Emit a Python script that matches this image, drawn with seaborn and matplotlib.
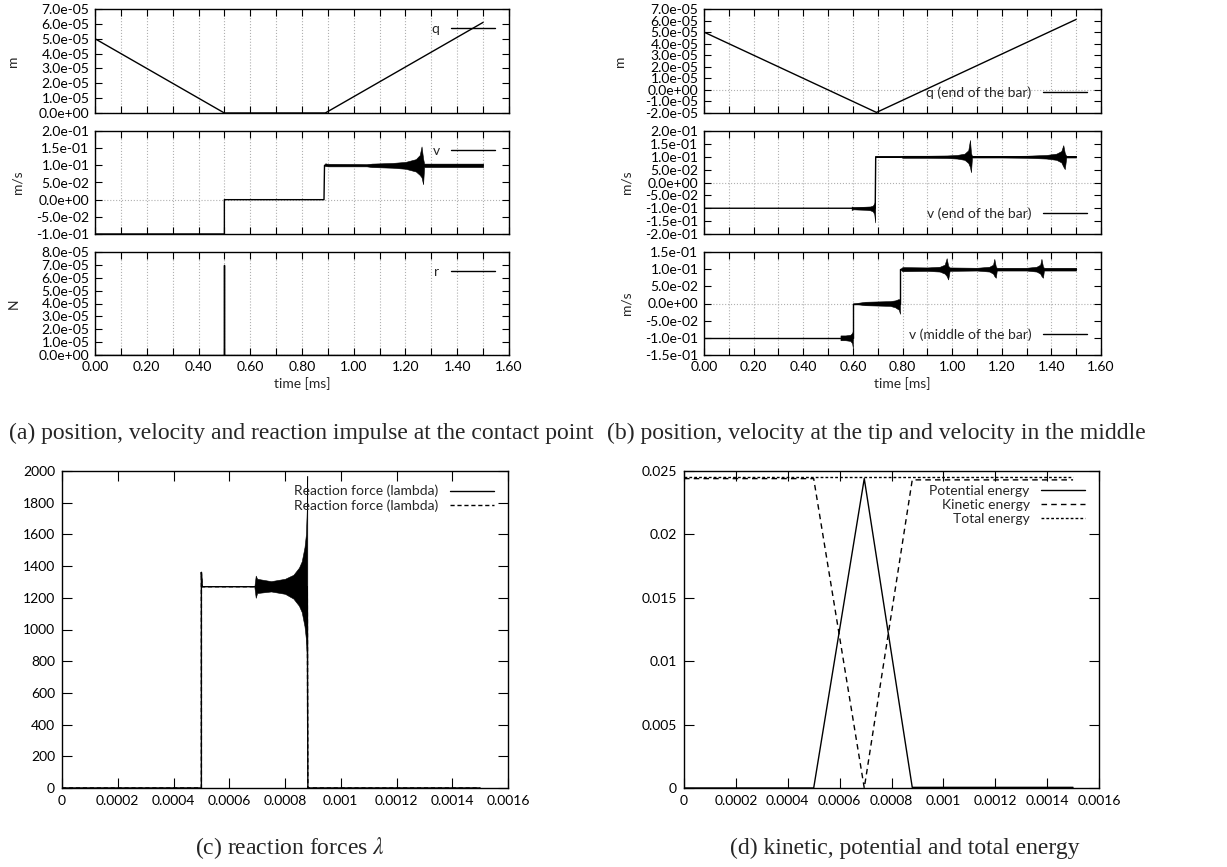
import matplotlib
matplotlib.use("Agg")
import matplotlib.pyplot as plt
import seaborn as sns
import numpy as np
import pandas as pd
from matplotlib.ticker import FixedLocator, FuncFormatter

# ---------------- data (time in ms for a/b, in s for c/d) ----------------
# (a) contact point
qa_t = [0.0, 0.5, 0.89, 1.5]
qa_v = [5.0e-5, 0.0, 0.0, 6.1e-5]

va_t = [0.0, 0.5, 0.5, 0.885, 0.887, 0.9, 1.5]
va_v = [-0.1, -0.1, 0.0, 0.0, 0.1, 0.1, 0.1]
va_band_t = [0.885, 0.89, 0.90, 1.05, 1.07, 1.15, 1.20, 1.24, 1.255, 1.262, 1.268, 1.272, 1.28, 1.5]
va_band_hi = [0.100, 0.106, 0.104, 0.103, 0.105, 0.107, 0.110, 0.118, 0.130, 0.155, 0.120, 0.105, 0.105, 0.105]
va_band_lo = [0.100, 0.098, 0.097, 0.097, 0.095, 0.093, 0.090, 0.082, 0.072, 0.065, 0.045, 0.095, 0.095, 0.095]

ra_t = [0.0, 0.5, 0.5, 0.5, 1.5]
ra_v = [0.0, 0.0, 7.0e-5, 0.0, 0.0]

# (b) tip and middle of the bar
qb_t = [0.0, 0.695, 1.5]
qb_v = [5.0e-5, -1.95e-5, 6.1e-5]

vb_t = [0.0, 0.69, 0.692, 1.5]
vb_v = [-0.1, -0.1, 0.1, 0.1]
vb_band_t = [0.595, 0.60, 0.62, 0.65, 0.67, 0.68, 0.686, 0.690, 0.690,
             0.79, 0.80, 0.90, 0.98, 1.02, 1.05, 1.065, 1.072, 1.076, 1.08,
             1.20, 1.30, 1.38, 1.42, 1.44, 1.448, 1.454, 1.46, 1.5]
vb_band_hi = [-0.093, -0.096, -0.095, -0.094, -0.093, -0.090, -0.082, -0.070, 0.100,
              0.100, 0.104, 0.104, 0.105, 0.107, 0.112, 0.125, 0.165, 0.115, 0.103,
              0.103, 0.104, 0.107, 0.112, 0.122, 0.145, 0.115, 0.103, 0.103]
vb_band_lo = [-0.107, -0.104, -0.105, -0.106, -0.108, -0.112, -0.122, -0.155, 0.100,
              0.100, 0.096, 0.096, 0.095, 0.093, 0.088, 0.076, 0.060, 0.040, 0.097,
              0.097, 0.096, 0.093, 0.088, 0.078, 0.062, 0.052, 0.097, 0.097]

vm_t = [0.0, 0.6, 0.6, 0.79, 0.79, 1.5]
vm_v = [-0.1, -0.1, 0.0, 0.0, 0.1, 0.1]
vm_band_t = [0.55, 0.57, 0.59, 0.597, 0.600, 0.600, 0.65, 0.70, 0.75, 0.77, 0.785, 0.790, 0.790,
             0.80, 0.90, 0.95, 0.97, 0.978, 0.984, 0.99,
             1.10, 1.15, 1.165, 1.170, 1.176, 1.18,
             1.30, 1.34, 1.355, 1.360, 1.366, 1.37, 1.5]
vm_band_hi = [-0.093, -0.093, -0.091, -0.086, -0.080, 0.000, 0.005, 0.006, 0.007, 0.009, 0.013, 0.010, 0.100,
              0.106, 0.105, 0.107, 0.113, 0.132, 0.110, 0.105,
              0.104, 0.107, 0.113, 0.130, 0.108, 0.104,
              0.104, 0.107, 0.113, 0.130, 0.108, 0.104, 0.104]
vm_band_lo = [-0.107, -0.107, -0.109, -0.116, -0.130, 0.000, -0.005, -0.006, -0.007, -0.011, -0.018, -0.030, 0.100,
              0.094, 0.095, 0.093, 0.087, 0.080, 0.070, 0.095,
              0.096, 0.093, 0.087, 0.080, 0.075, 0.096,
              0.096, 0.093, 0.087, 0.080, 0.075, 0.096, 0.096]

# (c) reaction force lambda
lam_t = [0.0, 0.0005, 0.0005, 0.000503, 0.00069, 0.00088, 0.000882, 0.0015]
lam_v = [0.0, 0.0, 1360.0, 1270.0, 1270.0, 1270.0, 0.0, 0.0]
lam_band_t = [0.00069, 0.000695, 0.0007, 0.00075, 0.0008, 0.00083, 0.00085, 0.00086, 0.00087, 0.000875, 0.000879, 0.00088]
lam_band_hi = [1270, 1340, 1320, 1305, 1320, 1345, 1390, 1430, 1520, 1600, 1800, 1970]
lam_band_lo = [1270, 1200, 1230, 1240, 1225, 1195, 1150, 1110, 1020, 940, 820, 780]

# (d) energies
en_t = [0.0, 0.0005, 0.000695, 0.00088, 0.0015]
pot_e = [0.0, 0.0, 0.0244, 0.00005, 0.00005]
kin_e = [0.0244, 0.0244, 0.0, 0.0243, 0.0243]
tot_e = [0.0245, 0.0245, 0.0245, 0.0245, 0.0245]

# ---------------- style ----------------
sns.set_theme(style="ticks")
plt.rcParams["font.family"] = ["Lato", "DejaVu Sans"]
plt.rcParams["mathtext.fontset"] = "stix"
FS = 10
W, H = 1227, 867
fig = plt.figure(figsize=(W / 100, H / 100), dpi=100)
fig.patch.set_facecolor("white")


def add_ax(l, t, r, b):
    ax = fig.add_axes([l / W, 1 - b / H, (r - l) / W, (b - t) / H])
    ax.set_facecolor("white")
    for s in ax.spines.values():
        s.set_color("black")
        s.set_linewidth(1.0)
    ax.tick_params(direction="in", length=5, width=0.8, top=True, right=True,
                   labelsize=FS, colors="black", pad=4)
    return ax


def line(ax, t, v, label=None, ls="-", lw=1.0):
    df = pd.DataFrame({"t": t, "v": v})
    sns.lineplot(data=df, x="t", y="v", ax=ax, color="black", lw=lw, linestyle=ls,
                 estimator=None, sort=False, label=label, legend=False)


def band(ax, t, lo, hi):
    ax.fill_between(t, lo, hi, color="black", lw=0.4, edgecolor="black")


def legend(ax, loc):
    leg = ax.legend(loc=loc, frameon=False, markerfirst=False, fontsize=FS,
                    handlelength=3.2, handletextpad=0.8, labelspacing=0.15,
                    borderaxespad=0.6)
    for col in leg._legend_handle_box.get_children():
        col.align = "right"
    return leg


sci = FuncFormatter(lambda v, p: "%.1e" % (0.0 if abs(v) < 1e-12 else v))
ms_ticks = [round(0.1 * i, 1) for i in range(17)]
ms_fmt = FuncFormatter(lambda v, p: "%.2f" % v if round(v * 10) % 2 == 0 else "")


def setup_ms(ax, yticks, bottom):
    ax.set_xlim(0, 1.6)
    ax.set_ylim(yticks[0], yticks[-1])
    ax.xaxis.set_major_locator(FixedLocator(ms_ticks))
    ax.yaxis.set_major_locator(FixedLocator(yticks))
    ax.yaxis.set_major_formatter(sci)
    ax.grid(axis="x", ls=":", color="#b0b0b0", lw=0.8)
    ax.axhline(0, ls=":", color="#b0b0b0", lw=0.8, zorder=0)
    if bottom:
        ax.xaxis.set_major_formatter(ms_fmt)
        ax.set_xlabel("time [ms]", fontsize=FS, labelpad=3)
    else:
        ax.set_xticklabels([])
        ax.set_xlabel("")


def yt(a, b, n):
    return [a + (b - a) * i / n for i in range(n + 1)]


# ---------------- (a) ----------------
ax = add_ax(95, 9, 509, 113)
line(ax, qa_t, qa_v, "q")
setup_ms(ax, yt(0, 7e-5, 7), False)
ax.set_ylabel("m", fontsize=FS, labelpad=14)
legend(ax, "upper right")

ax = add_ax(95, 131, 509, 234)
line(ax, va_t, va_v, "v")
band(ax, va_band_t, va_band_lo, va_band_hi)
setup_ms(ax, yt(-0.1, 0.2, 6), False)
ax.set_ylabel("m/s", fontsize=FS, labelpad=9)
legend(ax, "upper right")

ax = add_ax(95, 252, 509, 355)
line(ax, ra_t, ra_v, "r")
setup_ms(ax, yt(0, 8e-5, 8), True)
ax.set_ylabel("N", fontsize=FS, labelpad=14)
legend(ax, "upper right")

# ---------------- (b) ----------------
ax = add_ax(704, 9, 1101, 113)
line(ax, qb_t, qb_v, "q (end of the bar)")
setup_ms(ax, yt(-2e-5, 7e-5, 9), False)
ax.set_ylabel("m", fontsize=FS, labelpad=14)
legend(ax, "lower right")

ax = add_ax(704, 131, 1101, 234)
line(ax, vb_t, vb_v, "v (end of the bar)")
band(ax, vb_band_t, vb_band_lo, vb_band_hi)
setup_ms(ax, yt(-0.2, 0.2, 8), False)
ax.set_ylabel("m/s", fontsize=FS, labelpad=9)
legend(ax, "lower right")

ax = add_ax(704, 252, 1101, 355)
line(ax, vm_t, vm_v, "v (middle of the bar)")
band(ax, vm_band_t, vm_band_lo, vm_band_hi)
setup_ms(ax, yt(-0.15, 0.15, 6), True)
ax.set_ylabel("m/s", fontsize=FS, labelpad=9)
legend(ax, "lower right")

# ---------------- (c) ----------------
s_ticks = [0.0002 * i for i in range(9)]
s_fmt = FuncFormatter(lambda v, p: "%g" % round(v, 6))

ax = add_ax(62, 471, 508, 788)
line(ax, lam_t, lam_v, "Reaction force (lambda)")
line(ax, lam_t, lam_v, "Reaction force (lambda)", ls=(0, (3, 2)))
band(ax, lam_band_t, lam_band_lo, lam_band_hi)
ax.set_xlim(0, 0.0016)
ax.set_ylim(0, 2000)
ax.xaxis.set_major_locator(FixedLocator(s_ticks))
ax.xaxis.set_major_formatter(s_fmt)
ax.yaxis.set_major_locator(FixedLocator(yt(0, 2000, 10)))
ax.set_xlabel("")
ax.set_ylabel("")
ax.tick_params(length=7, pad=5)
legend(ax, "upper right")

# ---------------- (d) ----------------
ax = add_ax(684, 471, 1099, 788)
line(ax, en_t, pot_e, "Potential energy")
line(ax, en_t, kin_e, "Kinetic energy", ls=(0, (4, 3)))
line(ax, en_t, tot_e, "Total energy", ls=(0, (2, 1.5)))
ax.set_xlim(0, 0.0016)
ax.set_ylim(0, 0.025)
ax.xaxis.set_major_locator(FixedLocator(s_ticks))
ax.xaxis.set_major_formatter(s_fmt)
ax.yaxis.set_major_locator(FixedLocator(yt(0, 0.025, 5)))
ax.yaxis.set_major_formatter(FuncFormatter(lambda v, p: "%g" % round(v, 6)))
ax.set_xlabel("")
ax.set_ylabel("")
ax.tick_params(length=7, pad=5)
legend(ax, "upper right")

# ---------------- captions ----------------
cap = dict(fontsize=17, family=["Liberation Serif", "DejaVu Serif"], ha="center", va="center")
fig.text(301 / W, 1 - 433 / H, "(a) position, velocity and reaction impulse at the contact point", **cap)
fig.text(876 / W, 1 - 433 / H, "(b) position, velocity at the tip and velocity in the middle", **cap)
fig.text(290 / W, 1 - 848 / H, r"(c) reaction forces $\lambda$", **cap)
fig.text(905 / W, 1 - 848 / H, "(d) kinetic, potential and total energy", **cap)

fig.savefig("out.png", dpi=100, facecolor="white")
